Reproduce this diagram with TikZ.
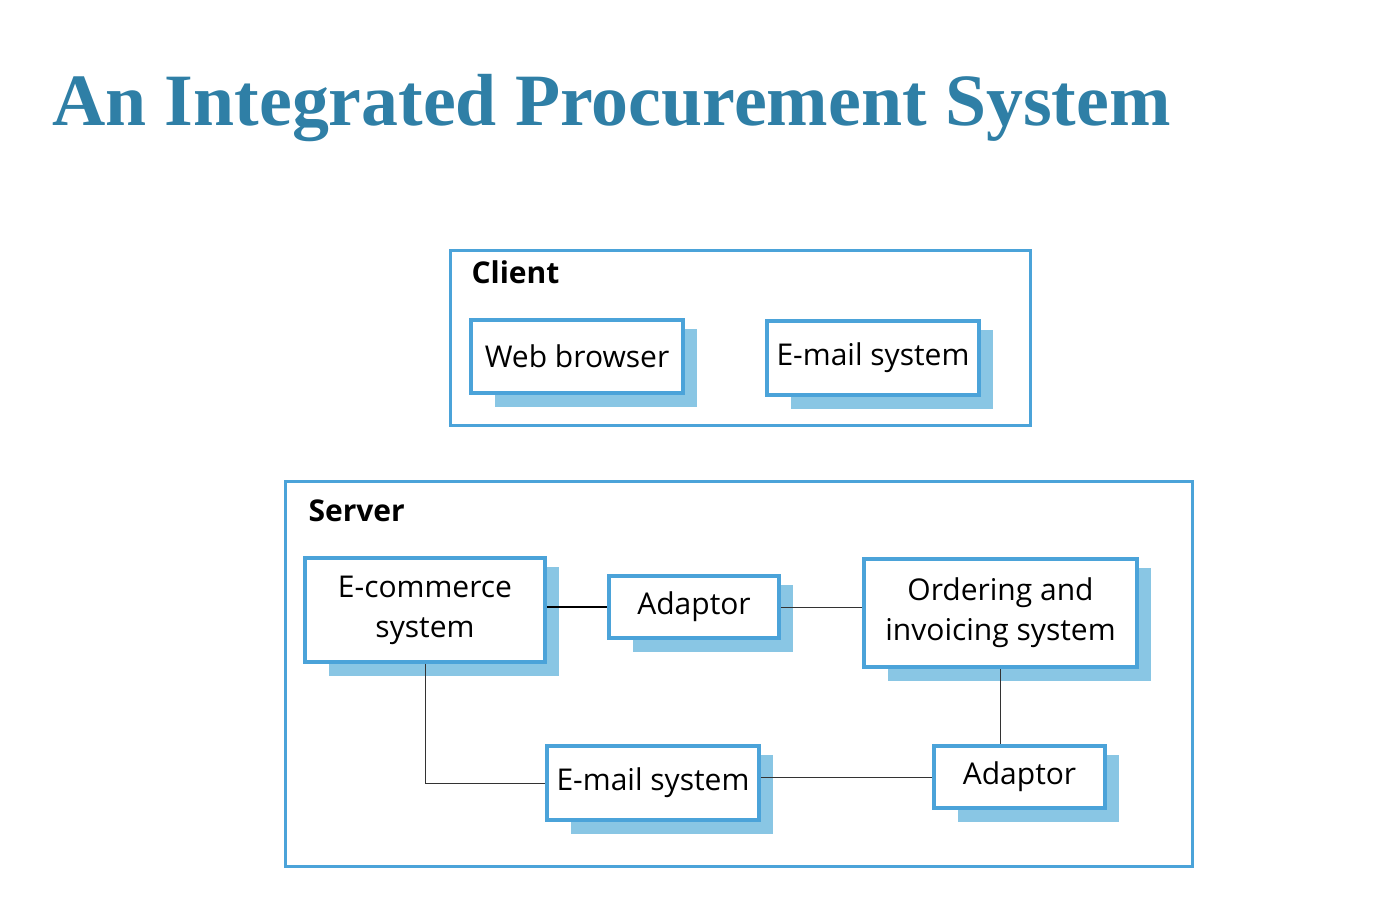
\documentclass[tikz,border=0pt]{standalone}
\usepackage{fontspec}
\setmainfont{Open Sans}
\newfontfamily\titlefont{Liberation Serif}
\usetikzlibrary{calc,backgrounds}

\definecolor{boxblue}{HTML}{4BA3D9}
\definecolor{shadeblue}{HTML}{89C6E4}
\definecolor{titleblue}{HTML}{2F7FA6}

\begin{document}
\begin{tikzpicture}[
      x=1pt, y=-1pt,
      comp/.style={draw=boxblue,line width=3.6pt,fill=white,align=center,inner sep=0pt,
        font=\fontsize{30}{40}\selectfont},
      frame/.style={draw=boxblue,line width=3pt},
      tag/.style={anchor=west,font=\fontsize{30}{36}\selectfont\bfseries},
      link/.style={thin,draw=black!80},
      thicklink/.style={line width=1.5pt}
    ]
    \useasboundingbox (0,0) rectangle (1394,898);
    % Title.
    \node[anchor=base west,inner sep=0pt,text=titleblue,font=\fontsize{73.8}{80}\selectfont\titlefont\bfseries]
      (title) at (52,125) {An Integrated Procurement System};
    % Client and server frames.
    \draw[frame] (450,250) rectangle (1030,425);
    \node[tag] (client) at (468,272) {Client};
    \draw[frame] (285,481) rectangle (1192,866);
    \node[tag] (server) at (305,511) {Server};
    % Components.
    \node[comp,minimum width=212pt,minimum height=73pt] (web) at (577,356.5) {Web browser};
    \node[comp,minimum width=212pt,minimum height=74pt] (cmail) at (873,358) {E-mail system};
    \node[comp,minimum width=240pt,minimum height=104pt] (ecom) at (425,610) {E-commerce\\system};
    \node[comp,minimum width=170pt,minimum height=62pt] (adapt1) at (694,607) {Adaptor};
    \node[comp,minimum width=273pt,minimum height=108pt] (order) at (1000.5,613) {Ordering and\\invoicing system};
    \node[comp,minimum width=212pt,minimum height=74pt] (smail) at (653,783) {E-mail system};
    \node[comp,minimum width=171pt,minimum height=62pt] (adapt2) at (1019.5,777) {Adaptor};
    % Shadows behind the components.
    \begin{scope}[on background layer]
      \foreach \n in {web,cmail,ecom,adapt1,order,smail,adapt2}
        \fill[shadeblue] ($(\n.north west)+(26,11)$) rectangle ($(\n.south east)+(12,12)$);
    \end{scope}
    % Connections.
    \draw[thicklink] (ecom.east |- adapt1.west) -- (adapt1.west);
    \draw[link] (adapt1.east) -- (adapt1.east -| order.west);
    \draw[link] (ecom.south) |- (smail.west);
    \draw[link] (smail.east |- adapt2.west) -- (adapt2.west);
    \draw[link] (order.south) -- (order.south |- adapt2.north);
\end{tikzpicture}
\end{document}
